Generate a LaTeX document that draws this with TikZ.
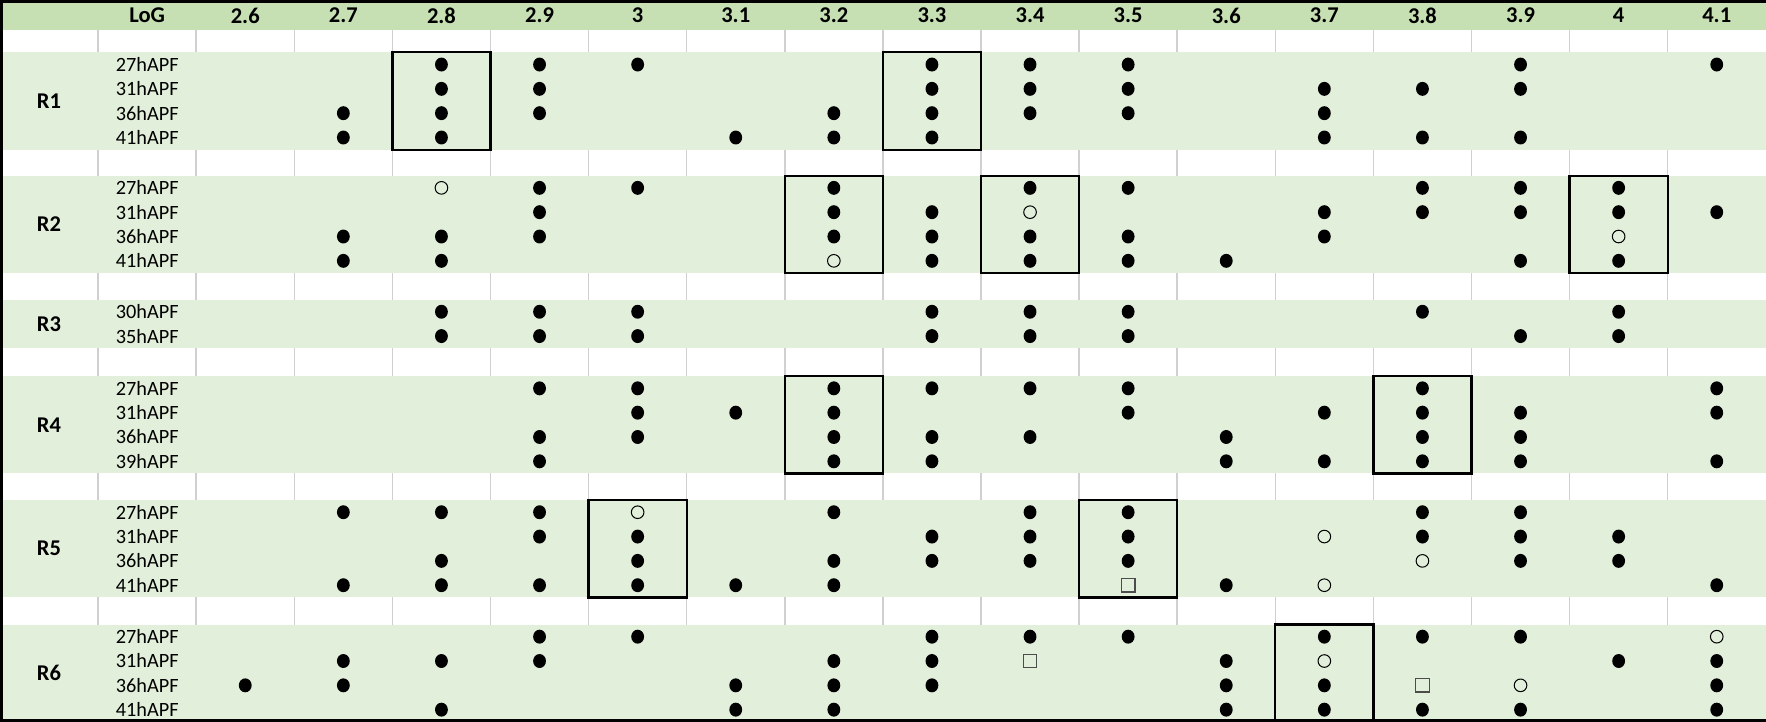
\documentclass[tikz,border=0pt]{standalone}
\usepackage{fontspec}
\setmainfont{Carlito}
\definecolor{headgreen}{HTML}{C6E0B4}
\definecolor{bandgreen}{HTML}{E2EFDA}
\definecolor{gridgray}{HTML}{D0D0D0}
\tikzset{
  lbl/.style={font=\fontsize{9}{10}\selectfont, inner sep=0pt},
  hdr/.style={font=\fontsize{10}{11}\selectfont\bfseries, inner sep=0pt},
  hollow/.style={draw=black, line width=0.45pt},
  sqmark/.style={draw=black!70, line width=0.55pt},
  hitbox/.style={draw=black, line width=1pt}
}
\begin{document}
\begin{tikzpicture}[x=0.5pt,y=-0.5pt]
\useasboundingbox (0,0) rectangle (1568,641);
%grid lines, seen only in the empty rows
\foreach \i in {1,...,17}
  \draw[gridgray, line width=0.7pt] (87.1*\i,26.6) -- (87.1*\i,641);
\fill[headgreen] (0,0) rectangle (1568,26.6);
\foreach \t/\n in {46.5/4,156/4,266/2,334/4,444/4,554.5/4}
  \fill[bandgreen] (0,\t) rectangle (1568,\t+21.6*\n);

\node[hdr] (log) at (130.7,13.8) {LoG};
\foreach \v [count=\k from 0] in {2.6,2.7,2.8,2.9,3,3.1,3.2,3.3,3.4,3.5,3.6,3.7,3.8,3.9,4,4.1}
  \node[hdr] (h\k) at (87.1*\k+217.75,13.8) {\v};

\node[hdr] (r1) at (43.5,89.7) {R1};
\node[hdr] (r2) at (43.5,199.2) {R2};
\node[hdr] (r3) at (43.5,287.6) {R3};
\node[hdr] (r4) at (43.5,377.2) {R4};
\node[hdr] (r5) at (43.5,487.2) {R5};
\node[hdr] (r6) at (43.5,597.7) {R6};

\foreach \y/\s [count=\j] in {57.3/27,78.9/31,100.5/36,122.1/41,
    166.8/27,188.4/31,210.0/36,231.6/41, 276.8/30,298.4/35,
    344.8/27,366.4/31,388.0/36,409.6/39, 454.8/27,476.4/31,498.0/36,519.6/41,
    565.3/27,586.9/31,608.5/36,630.1/41}
  \node[lbl] (s\j) at (130.7,\y) {\s hAPF};

%filled marks
\foreach \y/\cols in {57.3/{2,3,4,7,8,9,13,15}, 78.9/{2,3,7,8,9,11,12,13},
    100.5/{1,2,3,6,7,8,9,11}, 122.1/{1,2,5,6,7,11,12,13},
    166.8/{3,4,6,8,9,12,13,14}, 188.4/{3,6,7,11,12,13,14,15},
    210.0/{1,2,3,6,7,8,9,11}, 231.6/{1,2,7,8,9,10,13,14},
    276.8/{2,3,4,7,8,9,12,14}, 298.4/{2,3,4,7,8,9,13,14},
    344.8/{3,4,6,7,8,9,12,15}, 366.4/{4,5,6,9,11,12,13,15},
    388.0/{3,4,6,7,8,10,12,13}, 409.6/{3,6,7,10,11,12,13,15},
    454.8/{1,2,3,6,8,9,12,13}, 476.4/{3,4,7,8,9,12,13,14},
    498.0/{2,4,6,7,8,9,13,14}, 519.6/{1,2,3,4,5,6,10,15},
    565.3/{3,4,7,8,9,11,12,13}, 586.9/{1,2,3,6,7,10,14,15},
    608.5/{0,1,5,6,7,10,11,15}, 630.1/{2,5,6,10,11,12,13,15}}
  \foreach \c in \cols
    \fill (87.1*\c+217.75,\y) ellipse [x radius=2.85pt, y radius=3.1pt];

%open marks
\foreach \c/\y in {2/166.8,8/188.4,14/210.0,6/231.6,4/454.8,11/476.4,12/498.0,
    11/519.6,15/565.3,11/586.9,13/608.5}
  \draw[hollow] (87.1*\c+217.75,\y) circle [radius=2.8pt];
\foreach \c/\y in {9/519.6,8/586.9,12/608.5}
  \draw[sqmark] (87.1*\c+211.75,\y-6) rectangle (87.1*\c+223.75,\y+6);

%boxes
\foreach \c/\t in {2/46.5,7/46.5,6/156,8/156,14/156,6/334,12/334,4/444,9/444,11/554.5}
  \draw[hitbox] (87.1*\c+174.2,\t) rectangle (87.1*\c+261.3,\t+86.4);

\draw[line width=1.2pt] (1568,1.1) -- (1.1,1.1) -- (1.1,639.9) -- (1568,639.9);
\end{tikzpicture}
\end{document}
